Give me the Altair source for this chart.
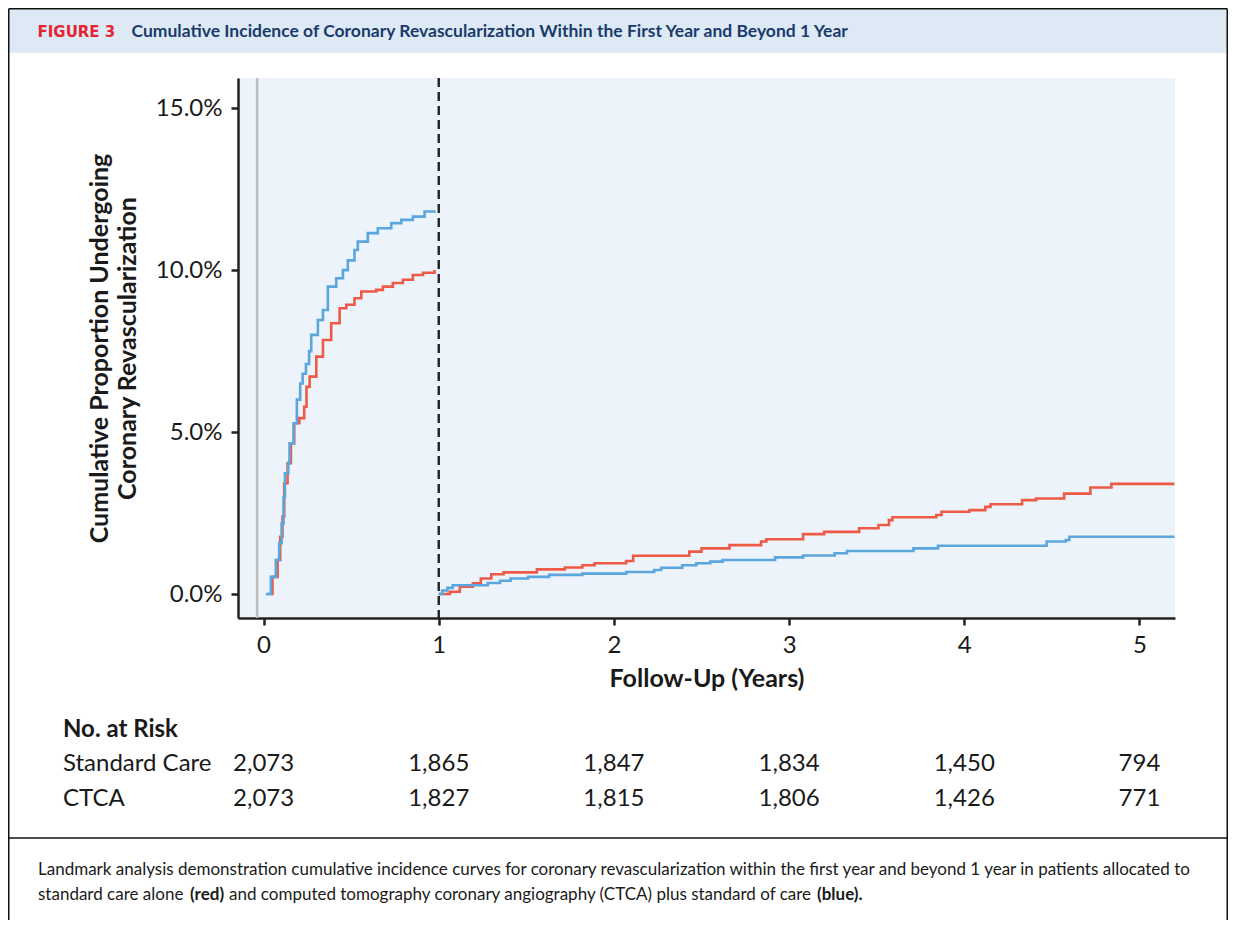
import altair as alt
import pandas as pd

FONT = "Lato"
RED = "#EE5A45"
BLUE = "#5BA6DC"
INK = "#1a1a1a"

# ---------------- data ----------------
# Standard care, first year (years, cumulative %)
sc_y1_t = [0.023, 0.051, 0.08, 0.095, 0.108, 0.118, 0.137, 0.156, 0.175, 0.204, 0.232, 0.245, 0.263,
           0.301, 0.339, 0.386, 0.434, 0.472, 0.519, 0.558, 0.643, 0.681, 0.738, 0.795, 0.852, 0.91, 0.976]
sc_y1_p = [0.0, 0.53, 1.05, 1.77, 2.39, 3.42, 4.04, 4.65, 5.27, 5.43, 5.78, 6.4, 6.71,
           7.33, 7.84, 8.36, 8.82, 8.93, 9.13, 9.34, 9.39, 9.49, 9.6, 9.7, 9.85, 9.92, 10.0]
# CTCA, first year
ct_y1_t = [0.013, 0.042, 0.070, 0.089, 0.103, 0.114, 0.122, 0.141, 0.148, 0.171, 0.19, 0.209, 0.223,
           0.242, 0.26, 0.272, 0.31, 0.339, 0.367, 0.415, 0.453, 0.481, 0.519, 0.538, 0.595, 0.652,
           0.729, 0.786, 0.852, 0.919, 0.976]
ct_y1_p = [0.0, 0.53, 1.05, 1.57, 2.18, 3.0, 3.73, 4.04, 4.65, 5.27, 6.0, 6.5, 6.8,
           7.1, 7.5, 8.0, 8.46, 8.77, 9.49, 9.75, 10.0, 10.3, 10.62, 10.88, 11.14, 11.29,
           11.45, 11.55, 11.65, 11.81, 11.84]
# Standard care, beyond 1 year
sc_b1_t = [1.0, 1.064, 1.12, 1.195, 1.24, 1.30, 1.37, 1.56, 1.72, 1.82, 1.89, 2.07, 2.11, 2.43, 2.50,
           2.66, 2.84, 2.87, 3.08, 3.20, 3.40, 3.51, 3.57, 3.59, 3.84, 3.87, 4.03, 4.12, 4.15, 4.33,
           4.41, 4.57, 4.72, 4.84, 5.20]
sc_b1_p = [0.0, 0.07, 0.23, 0.33, 0.48, 0.61, 0.67, 0.76, 0.82, 0.89, 0.95, 1.02, 1.18, 1.31, 1.41,
           1.51, 1.62, 1.69, 1.85, 1.92, 2.03, 2.13, 2.28, 2.37, 2.44, 2.54, 2.59, 2.69, 2.77, 2.9,
           2.95, 3.1, 3.29, 3.40, 3.40]
# CTCA, beyond 1 year
ct_b1_t = [1.0, 1.02, 1.05, 1.08, 1.28, 1.35, 1.41, 1.51, 1.63, 1.82, 2.07, 2.23, 2.27, 2.39, 2.47,
           2.55, 2.62, 2.92, 3.08, 3.26, 3.33, 3.71, 3.85, 4.47, 4.58, 4.60, 5.20]
ct_b1_p = [0.0, 0.11, 0.19, 0.27, 0.34, 0.41, 0.48, 0.53, 0.59, 0.63, 0.68, 0.74, 0.81, 0.89, 0.95,
           1.0, 1.05, 1.13, 1.19, 1.26, 1.33, 1.41, 1.49, 1.62, 1.67, 1.77, 1.77]

landmark = [1]
origin_line = [-0.037]

risk_times = [0, 1, 2, 3, 4, 5]
risk_sc = [2073, 1865, 1847, 1834, 1450, 794]
risk_ctca = [2073, 1827, 1815, 1806, 1426, 771]
risk_groups = ["Standard Care", "CTCA"]

x_ticks = [0, 1, 2, 3, 4, 5]
y_ticks = [0, 5, 10, 15]

fig_label = "FIGURE 3"
fig_title = "Cumulative Incidence of Coronary Revascularization Within the First Year and Beyond 1 Year"
caption_line1 = ("Landmark analysis demonstration cumulative incidence curves for coronary revascularization "
                 "within the first year and beyond 1 year in patients allocated to")
caption_line2 = ["standard care alone", "(red)",
                 "and computed tomography coronary angiography (CTCA) plus standard of care", "(blue)."]

# ---------------- tables ----------------
def curve_df(group, ts1, ps1, ts2, ps2):
    rows = [dict(group=group, segment="first", t=t, p=p) for t, p in zip(ts1, ps1)]
    rows += [dict(group=group, segment="beyond", t=t, p=p) for t, p in zip(ts2, ps2)]
    return pd.DataFrame(rows)

sc_df = curve_df("Standard Care", sc_y1_t, sc_y1_p, sc_b1_t, sc_b1_p)
ct_df = curve_df("CTCA", ct_y1_t, ct_y1_p, ct_b1_t, ct_b1_p)
risk_sc_df = pd.DataFrame({"t": risk_times, "n": risk_sc})
risk_ct_df = pd.DataFrame({"t": risk_times, "n": risk_ctca})
one = pd.DataFrame({"a": [0]})

x_scale = alt.Scale(domain=[-0.146, 5.203], nice=False, zero=False)
y_scale = alt.Scale(domain=[-0.74, 15.93], nice=False, zero=False)

x_axis = alt.Axis(values=x_ticks, format="d", title="Follow-Up (Years)", labelPadding=8,
                  titlePadding=9)
y_axis = alt.Axis(values=y_ticks, labelExpr="format(datum.value, '.1f') + '%'",
                  title=["Cumulative Proportion Undergoing", "Coronary Revascularization"],
                  labelPadding=9, titlePadding=15, titleLineHeight=28)

# ---------------- layers ----------------
origin_rule = alt.Chart(pd.DataFrame({"t": origin_line})).mark_rule(
    color="#bdbdbd", strokeWidth=2.5).encode(x=alt.X("t:Q", scale=x_scale, axis=x_axis))

def curve(df, color):
    return alt.Chart(df).mark_line(interpolate="step-after", strokeWidth=2.6, color=color).encode(
        x=alt.X("t:Q", scale=x_scale, axis=x_axis),
        y=alt.Y("p:Q", scale=y_scale, axis=y_axis),
        detail="segment:N",
    )

landmark_rule = alt.Chart(pd.DataFrame({"t": landmark})).mark_rule(
    color="#222", strokeWidth=2.4, strokeDash=[9, 5]).encode(x=alt.X("t:Q", scale=x_scale))

def risk_row(df, yv):
    return alt.Chart(df).mark_text(font=FONT, fontSize=24, color=INK, align="center",
                                   baseline="alphabetic").encode(
        x=alt.X("t:Q", scale=x_scale), y=alt.value(yv), text=alt.Text("n:Q", format=","))

def label(text, xv, yv, size=24, weight="normal", color=INK, font=FONT, align="left"):
    return alt.Chart(one).mark_text(text=text, font=font, fontSize=size, fontWeight=weight,
                                    color=color, align=align, baseline="alphabetic").encode(
        x=alt.value(xv), y=alt.value(yv))

LEFT, RIGHT, TOP = -229.25, 989.25, -69.25

header_band = alt.Chart(one).mark_rect(color="#DDEAF6").encode(
    x=alt.value(LEFT), x2=alt.value(RIGHT), y=alt.value(TOP), y2=alt.value(-25.3))

def hline(yv):
    return alt.Chart(one).mark_rule(color="#111", strokeWidth=1.5).encode(
        x=alt.value(LEFT), x2=alt.value(RIGHT), y=alt.value(yv))

def vline(xv):
    return alt.Chart(one).mark_rule(color="#111", strokeWidth=1.5).encode(
        x=alt.value(xv), y=alt.value(TOP), y2=alt.value(900))

layers = [
    header_band,
    origin_rule,
    curve(sc_df, RED),
    curve(ct_df, BLUE),
    landmark_rule,
    risk_row(risk_sc_df, 693),
    risk_row(risk_ct_df, 728),
    label("No. at Risk", -175, 659, weight="bold"),
    label(risk_groups[0], -175, 693),
    label(risk_groups[1], -175, 728),
    label(fig_label, -200.5, -41.3, size=15, weight="bold", color="#E4252F", font="DejaVu Sans"),
    label(fig_title, -106.5, -41.3, size=17.5, weight="bold", color="#1B3A6B"),
    label(caption_line1, -200, 797, size=17),
    label(caption_line2[0], -200, 822, size=17),
    label(caption_line2[1], -48, 822, size=17, weight="bold"),
    label(caption_line2[2], -9, 822, size=17),
    label(caption_line2[3], 579, 822, size=17, weight="bold"),
    hline(TOP),
    hline(760),
    vline(LEFT),
    vline(RIGHT),
]

chart = alt.layer(*layers).properties(
    width=937, height=540,
    autosize=alt.AutoSizeParams(type="none"),
    padding={"left": 230, "top": 70, "right": 53, "bottom": 302},
    background="white",
).configure_view(fill="#ECF3FB", stroke=None).configure_axis(
    grid=False, domainColor="#222", domainWidth=2.5, tickColor="#222", tickWidth=2.5, tickSize=7,
    labelFont=FONT, labelFontSize=24, labelColor=INK,
    titleFont=FONT, titleFontSize=25, titleFontWeight="bold", titleColor=INK,
)

chart.save("out.html", embed_options={"renderer": "svg", "actions": False})
